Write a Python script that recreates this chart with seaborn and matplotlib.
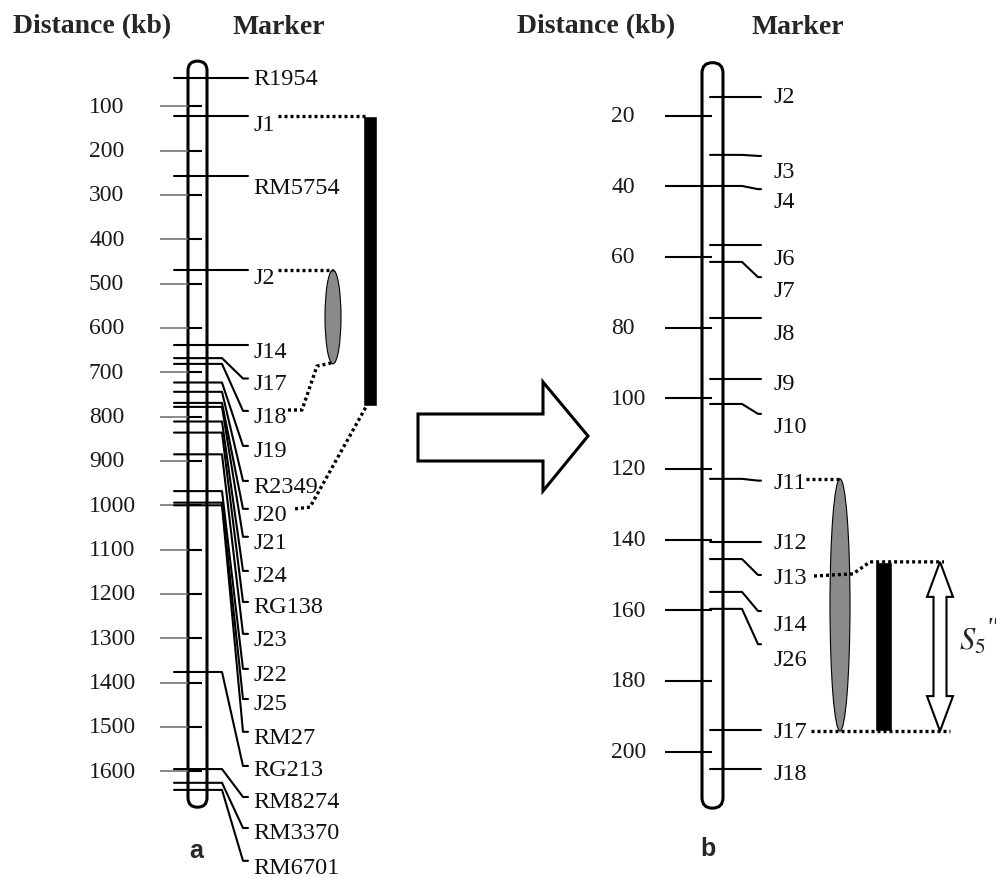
import numpy as np
import pandas as pd
import seaborn as sns
import matplotlib.pyplot as plt
from matplotlib.patches import FancyBboxPatch, Ellipse, Polygon

# ---- panel a: physical map (kb) ----
ticks_a = [100, 200, 300, 400, 500, 600, 700, 800, 900, 1000, 1100, 1200, 1300, 1400, 1500, 1600]
markers_a = ['R1954', 'J1', 'RM5754', 'J2', 'J14', 'J17', 'J18', 'J19', 'R2349', 'J20', 'J21',
             'J24', 'RG138', 'J23', 'J22', 'J25', 'RM27', 'RG213', 'RM8274', 'RM3370', 'RM6701']
pos_a = [36, 122, 257, 469, 638, 668, 681, 723, 744, 769, 778,
         811, 836, 885, 968, 994, 1000, 1376, 1595, 1626, 1642]
end_a = [36, 122, 257, 469, 638, 714, 787, 866, 945, 1008, 1071,
         1148, 1218, 1290, 1369, 1437, 1511, 1588, 1658, 1728, 1802]
label_a = [38, 142, 282, 487, 652, 726, 799, 877, 957, 1020, 1083,
           1159, 1229, 1302, 1381, 1448, 1523, 1597, 1669, 1739, 1816]
chrom_a = (-2, 1681)
qtl_a = (469, 681)      # grey ellipse
block_a = (122, 776)    # black bar

# ---- panel b: fine map (kb) ----
ticks_b = [20, 40, 60, 80, 100, 120, 140, 160, 180, 200]
markers_b = ['J2', 'J3', 'J4', 'J6', 'J7', 'J8', 'J9', 'J10', 'J11', 'J12', 'J13', 'J14', 'J26', 'J17', 'J18']
pos_b = [14.7, 31.1, 39.9, 56.6, 61.4, 77.3, 94.5, 101.6, 122.8, 140.7, 145.5, 154.8, 159.6, 193.9, 204.9]
end_b = [14.7, 31.4, 40.8, 56.6, 65.7, 77.3, 94.5, 104.4, 123.3, 140.7, 150.0, 160.2, 169.6, 193.9, 204.9]
label_b = [14.7, 35.7, 44.4, 60.3, 69.6, 81.8, 95.9, 108.1, 123.7, 140.9, 150.6, 163.9, 173.8, 194.2, 206.3]
chrom_b = (5, 216)
qtl_b = (122.8, 194.2)
block_b = (146.3, 194.2)

sns.set_theme(style='white')
plt.rcParams['font.family'] = ['Liberation Serif', 'DejaVu Serif']
plt.rcParams['mathtext.fontset'] = 'stix'

W, H = 996, 879
fig = plt.figure(figsize=(W / 100, H / 100), dpi=100)
base = fig.add_axes([0, 0, 1, 1])
base.set_xlim(0, W)
base.set_ylim(H, 0)
base.axis('off')

# kb -> pixel: y = 63 + 0.4433*kb (a), y = 46 + 3.533*kb (b)
sa, oa = 0.4433, 63
sb, ob = 3.533, 46
axa = fig.add_axes([0, 0, 1, 1])
axa.set_xlim(0, W)
axa.set_ylim((H - oa) / sa, -oa / sa)
axb = fig.add_axes([0, 0, 1, 1])
axb.set_xlim(0, W)
axb.set_ylim((H - ob) / sb, -ob / sb)
for ax in (axa, axb):
    ax.patch.set_alpha(0)
    ax.axis('off')

def tube(ax, x0, x1, span, kb_per_px):
    w = x1 - x0
    ax.add_patch(FancyBboxPatch((x0, span[0]), w, span[1] - span[0],
                                boxstyle=f"round,pad=0,rounding_size={w / 2}",
                                mutation_aspect=kb_per_px, fc='white', ec='black',
                                lw=2.2, zorder=1))

def connectors(ax, names, pos, end, xs):
    rows = []
    for n, p, e in zip(names, pos, end):
        for x, y in zip(xs, [p, p, e, e]):
            rows.append({'marker': n, 'x': x, 'kb': y})
    df = pd.DataFrame(rows)
    sns.lineplot(data=df, x='x', y='kb', units='marker', estimator=None, sort=False,
                 color='black', lw=1.5, legend=False, ax=ax, zorder=3)

def dotted(ax, pts):
    ax.plot([p[0] for p in pts], [p[1] for p in pts], color='black', lw=2.4,
            ls=(0, (0.9, 0.9)), zorder=4)

# ---- panel a ----
tube(axa, 188, 207, chrom_a, 1 / sa)
axa.hlines(ticks_a, 160, 188, color='#777777', lw=1.2, zorder=2)
axa.hlines(ticks_a, 188, 202, color='black', lw=1.5, zorder=2)
for t in ticks_a:
    axa.text(89, t, str(t), ha='left', va='center', fontsize=17, color='#1a1a1a')
connectors(axa, markers_a, pos_a, end_a, [174, 222, 243, 248])
for n, y in zip(markers_a, label_a):
    axa.text(253, y, n, ha='left', va='center', fontsize=17.5, color='#111111')
axa.add_patch(Ellipse((333, sum(qtl_a) / 2), 16, qtl_a[1] - qtl_a[0],
                      fc='#8a8a8a', ec='black', lw=0.8, zorder=3))
axa.bar(370, block_a[1] - block_a[0], bottom=block_a[0], width=14, color='black', zorder=3)
dotted(axa, [(278, pos_a[1]), (366, pos_a[1])])
dotted(axa, [(278, pos_a[3]), (333, pos_a[3])])
dotted(axa, [(288, 785), (302, 785), (317, 686), (331, 679)])
dotted(axa, [(295, 1008), (310, 1004), (366, 778)])

# ---- panel b ----
tube(axb, 702, 723, chrom_b, 1 / sb)
axb.hlines(ticks_b, 665, 712, color='black', lw=1.5, zorder=2)
for t in ticks_b:
    axb.text(611, t, str(t), ha='left', va='center', fontsize=17, color='#1a1a1a')
connectors(axb, markers_b, pos_b, end_b, [710, 742, 758, 761])
for n, y in zip(markers_b, label_b):
    axb.text(773, y, n, ha='left', va='center', fontsize=17.5, color='#111111')
axb.add_patch(Ellipse((840, sum(qtl_b) / 2), 20, qtl_b[1] - qtl_b[0],
                      fc='#8a8a8a', ec='black', lw=0.8, zorder=3))
axb.bar(883.5, block_b[1] - block_b[0], bottom=block_b[0], width=17, color='black', zorder=3)
dotted(axb, [(806, pos_b[8]), (840, pos_b[8])])
dotted(axb, [(814, 150.3), (853, 149.7), (870, block_b[0]), (944, block_b[0])])
dotted(axb, [(811, block_b[1]), (950, block_b[1])])

# double-headed hollow arrow for S5''
cx, hw, sw, hl = 940, 13, 6.5, 35 / sb
top, bot = block_b
axb.add_patch(Polygon([(cx, top), (cx + hw, top + hl), (cx + sw, top + hl), (cx + sw, bot - hl),
                       (cx + hw, bot - hl), (cx, bot), (cx - hw, bot - hl), (cx - sw, bot - hl),
                       (cx - sw, top + hl), (cx - hw, top + hl)],
                      closed=True, fc='white', ec='black', lw=1.5, zorder=4))
base.text(959, 642, r"$S_5$", ha='left', va='center', fontsize=22)
base.text(985, 630, '"', ha='left', va='center', fontsize=20, style='italic')

# ---- headers, big arrow, panel letters ----
for x, ha, s in [(13, 'left', 'Distance (kb)'), (279, 'center', 'Marker'),
                 (517, 'left', 'Distance (kb)'), (798, 'center', 'Marker')]:
    base.text(x, 27, s, ha=ha, va='center', fontsize=20, fontweight='bold')

base.add_patch(Polygon([(418, 415), (543, 415), (543, 383), (588, 437), (543, 492), (543, 462), (418, 462)],
                       closed=True, fc='white', ec='black', lw=2.2))

base.text(196, 851, 'a', ha='center', va='center', fontsize=18, fontweight='bold', family='Liberation Sans')
base.text(708, 849, 'b', ha='center', va='center', fontsize=18, fontweight='bold', family='Liberation Sans')

fig.savefig('out.png', dpi=100)
